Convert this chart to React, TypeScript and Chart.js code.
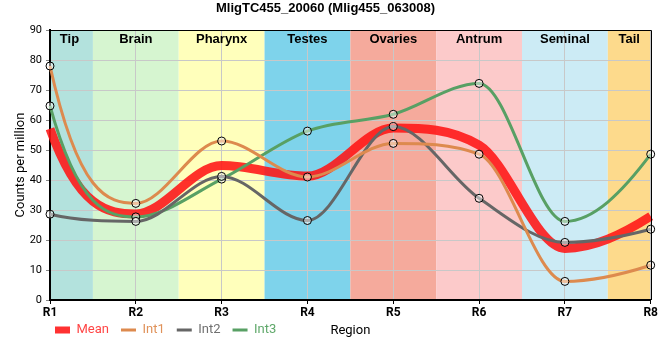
import React, { useEffect, useRef } from 'react';
import { Chart, registerables } from 'chart.js';

Chart.register(...registerables);

const categories = ['R1', 'R2', 'R3', 'R4', 'R5', 'R6', 'R7', 'R8'];
const meanValues = [57.1, 28.7, 44.8, 41.3, 57.3, 51.6, 17.2, 27.9];
const int1Values = [78, 32.2, 53, 41, 52.2, 48.6, 6.2, 11.6];
const int2Values = [28.6, 26.2, 41.2, 26.5, 57.8, 33.9, 19.2, 23.6];
const int3Values = [64.7, 27.7, 40.3, 56.3, 61.9, 72.2, 26.2, 48.6];
const regionNames = ['Tip', 'Brain', 'Pharynx', 'Testes', 'Ovaries', 'Antrum', 'Seminal', 'Tail'];
const regionColors = ['#b3e2dd', '#d6f5d0', '#ffffbb', '#7ed3eb', '#f5aa9c', '#fccaca', '#ccebf5', '#fdda8c'];
const seriesNames = ['Mean', 'Int1', 'Int2', 'Int3'];
const seriesColors = ['rgba(255,20,20,0.88)', '#dd8a4e', '#666666', '#58a064'];
const legendTextColors = ['#ff4545', '#e0925a', '#707070', '#5fa86a'];
const chartTitle = 'MligTC455_20060 (Mlig455_063008)';
const xTitle = 'Region';
const yTitle = 'Counts per million';

// curve end handling (spline style of the original renderer)
const startTangentFactor = 2.8;
const endTangentFactor = 1.7;

const bandsPlugin = {
  id: 'bands',
  beforeDraw(chart: any) {
    const { ctx, chartArea: a, scales } = chart;
    const x = scales.x;
    ctx.save();
    regionNames.forEach((_n, i) => {
      const l = Math.max(a.left, x.getPixelForValue(i - 0.5));
      const r = Math.min(a.right, x.getPixelForValue(i + 0.5));
      ctx.fillStyle = regionColors[i];
      ctx.fillRect(l, a.top, r - l, a.bottom - a.top);
    });
    ctx.restore();
  },
  beforeDatasetsDraw(chart: any) {
    const { ctx, chartArea: a, scales } = chart;
    const x = scales.x;
    ctx.save();
    ctx.font = 'bold 13px "Liberation Sans", Arial, sans-serif';
    ctx.fillStyle = '#000';
    ctx.textAlign = 'center';
    ctx.textBaseline = 'middle';
    regionNames.forEach((n, i) => {
      const l = Math.max(a.left, x.getPixelForValue(i - 0.5));
      const r = Math.min(a.right, x.getPixelForValue(i + 0.5));
      let cx = (l + r) / 2;
      if (i === 0) cx -= 2;
      ctx.fillText(n, cx, a.top + 9);
    });
    ctx.restore();

    // adjust the spline tangents at the two ends of every line
    chart.getSortedVisibleDatasetMetas().forEach((meta: any) => {
      const line = meta.dataset;
      const pts = meta.data;
      if (!line || !pts || pts.length < 2) return;
      if (typeof line.updateControlPoints === 'function') line.updateControlPoints(a, meta.indexAxis);
      const p0 = pts[0];
      const p1 = pts[1];
      const h0 = p1.x - p0.x;
      p0.cp2x = p0.x + h0 / 3;
      p0.cp2y = p0.y + (startTangentFactor * (p1.y - p0.y)) / 3;
      const n = pts.length;
      const pn = pts[n - 1];
      const pm = pts[n - 2];
      const hn = pn.x - pm.x;
      pn.cp1x = pn.x - hn / 3;
      pn.cp1y = pn.y - (endTangentFactor * (pn.y - pm.y)) / 3;
      line._path = undefined;
    });
  },
  afterLayout(chart: any) {
    const lg = chart.legend;
    if (lg) {
      const shiftX = 7;
      lg.left -= shiftX;
      lg.right -= shiftX;
      const newTop = 311.5;
      lg.bottom = newTop + (lg.bottom - lg.top);
      lg.top = newTop;
    }
  },
  afterDraw(chart: any) {
    const { ctx, chartArea: a } = chart;
    ctx.save();
    ctx.strokeStyle = '#000';
    ctx.lineWidth = 1;
    ctx.beginPath();
    ctx.moveTo(a.left, Math.round(a.top) + 0.5);
    ctx.lineTo(Math.round(a.right) + 0.5, Math.round(a.top) + 0.5);
    ctx.lineTo(Math.round(a.right) + 0.5, a.bottom);
    ctx.stroke();
    ctx.font = '13px Roboto, sans-serif';
    ctx.fillStyle = '#000';
    ctx.textAlign = 'center';
    ctx.textBaseline = 'middle';
    ctx.fillText(xTitle, (a.left + a.right) / 2, 331);
    ctx.restore();
  },
};

export default function App() {
  const ref = useRef<HTMLCanvasElement>(null);
  useEffect(() => {
    const valuesList = [meanValues, int1Values, int2Values, int3Values];
    const datasets = valuesList.map((vals, i) => ({
      label: seriesNames[i],
      data: vals,
      borderColor: seriesColors[i],
      backgroundColor: seriesColors[i],
      borderWidth: i === 0 ? 9 : 3,
      cubicInterpolationMode: 'monotone' as const,
      fill: false,
      pointRadius: i === 0 ? 0 : 4,
      pointBorderColor: '#000',
      pointBorderWidth: 1,
      pointBackgroundColor: 'rgba(255,255,255,0.45)',
      order: i === 0 ? 10 : 0,
    }));
    const chart = new Chart(ref.current!, {
      type: 'line',
      data: { labels: categories, datasets },
      plugins: [bandsPlugin],
      options: {
        responsive: false,
        animation: false,
        events: [],
        layout: { padding: { left: 0, right: 9, top: 0, bottom: 3 } },
        plugins: {
          tooltip: { enabled: false },
          title: {
            display: true,
            text: chartTitle,
            color: '#000',
            font: { family: '"Liberation Sans", Arial, sans-serif', size: 13, weight: 'bold' },
            padding: { top: 1, bottom: 13.4 },
          },
          legend: {
            position: 'bottom',
            align: 'start',
            fullSize: false,
            labels: {
              usePointStyle: true,
              pointStyleWidth: 15,
              boxWidth: 15,
              boxHeight: 7,
              padding: 12,
              font: { family: 'Roboto, sans-serif', size: 13 },
              generateLabels: () =>
                seriesNames.map((n, i) => ({
                  text: n,
                  fillStyle: seriesColors[i],
                  strokeStyle: seriesColors[i],
                  lineWidth: i === 0 ? 0 : 3,
                  pointStyle: i === 0 ? 'rect' : 'line',
                  fontColor: legendTextColors[i],
                  hidden: false,
                  datasetIndex: i,
                })),
            },
          },
        },
        scales: {
          x: {
            type: 'category',
            offset: false,
            grid: { offset: false, color: '#c8c8c8', tickLength: 4, tickColor: '#000' },
            border: { display: true, color: '#000', width: 2 },
            ticks: { color: '#000', padding: 2, font: { family: 'Roboto, sans-serif', size: 12, weight: 'bold' } },
            afterFit: (s: any) => {
              s.height = 22;
            },
          },
          y: {
            min: 0,
            max: 90,
            ticks: { stepSize: 10, color: '#000', padding: 4, font: { family: 'Roboto, sans-serif', size: 11 } },
            grid: { color: '#c8c8c8', tickLength: 4, tickColor: '#888' },
            border: { display: true, color: '#000', width: 2 },
            title: {
              display: true,
              text: yTitle,
              color: '#000',
              font: { family: 'Roboto, sans-serif', size: 13 },
              padding: { top: 12.8, bottom: 0 },
            },
            afterFit: (s: any) => {
              s.width = 50;
            },
          },
        },
      },
    } as any);
    return () => chart.destroy();
  }, []);
  return (
    <div style={{ position: 'absolute', left: 0, top: 0, width: 660, height: 360 }}>
      <canvas ref={ref} width={660} height={360} style={{ display: 'block' }} />
    </div>
  );
}
